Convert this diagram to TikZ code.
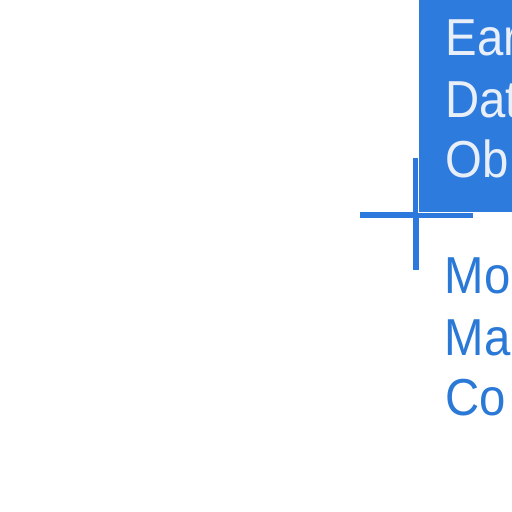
\documentclass[tikz,border=0pt]{standalone}
\usepackage{fontspec}
\setmainfont{Liberation Sans}
\definecolor{boxblue}{HTML}{2E7BDE}
\definecolor{lineblue}{HTML}{2C78DC}
\definecolor{textblue}{HTML}{2A79D6}
\definecolor{boxtext}{HTML}{E8EFF9}
\newcommand{\nw}[1]{\scalebox{0.91}[1]{#1}}
\begin{document}
\begin{tikzpicture}[x=1pt,y=-1pt,
  lbl/.style={anchor=base west,inner sep=0pt,font=\fontsize{52}{61}\selectfont},
  cross/.style={draw=lineblue,line width=5.5pt}]
\useasboundingbox (0,0) rectangle (512,512);
\clip (0,0) rectangle (512,512);
\coordinate (hl) at (360,215);
\coordinate (hr) at (473,215);
\coordinate (vt) at (416,158);
\coordinate (vb) at (416,270);
\draw[cross] (hl) -- (hr);
\draw[cross] (vt) -- (vb);
\node[draw=white,line width=0.8pt,fill=boxblue,minimum width=110pt,minimum height=222pt,anchor=south west,inner sep=0pt] (box) at (417.5,212.5) {};
\node[lbl,text=boxtext] (t1) at (445.3,55) {\nw{Ear}};
\node[lbl,text=boxtext] (t2) at (445.3,117) {\nw{Dat}};
\node[lbl,text=boxtext] (t3) at (445.3,177) {\nw{Ob}};
\node[lbl,text=textblue] (b1) at (444.5,293) {\nw{Mo}};
\node[lbl,text=textblue] (b2) at (444.5,355) {\nw{Ma}};
\node[lbl,text=textblue] (b3) at (445.6,415) {\nw{Co}};
\end{tikzpicture}
\end{document}
